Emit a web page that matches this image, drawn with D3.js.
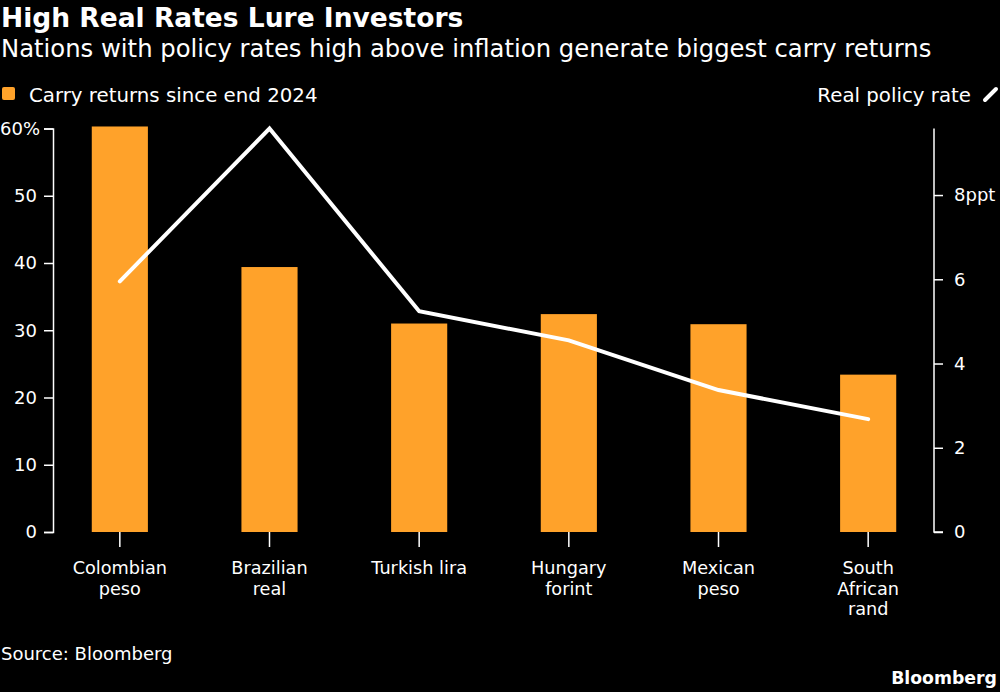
<!DOCTYPE html>
<html>
<head>
<meta charset="utf-8">
<script src="https://cdn.jsdelivr.net/npm/d3@7"></script>
<style>
  html, body { margin: 0; padding: 0; background: #000; }
  svg { display: block; font-family: "DejaVu Sans", sans-serif; }
  .axis path, .axis line { stroke: #fff; stroke-width: 1.5; }
  .axis text { fill: #fff; font-size: 18px; font-family: "DejaVu Sans", sans-serif; }
</style>
</head>
<body>
<div id="chart"></div>
<script>
const categories = ['Colombian peso', 'Brazilian real', 'Turkish lira', 'Hungary forint', 'Mexican peso', 'South African rand'];
const categoryLines = [['Colombian', 'peso'], ['Brazilian', 'real'], ['Turkish lira'], ['Hungary', 'forint'], ['Mexican', 'peso'], ['South', 'African', 'rand']];
const carryReturns = [60.3, 39.4, 31.0, 32.4, 30.9, 23.4];
const realPolicyRate = [5.95, 9.58, 5.24, 4.55, 3.37, 2.68];
const leftTicks = [0, 10, 20, 30, 40, 50, 60];
const rightTicks = [0, 2, 4, 6, 8];

const W = 1000, H = 692;
const plot = {left: 45, right: 943, top: 128.5, bottom: 532};

const svg = d3.select('#chart').append('svg')
    .attr('width', W)
    .attr('height', H);

svg.append('rect').attr('width', W).attr('height', H).attr('fill', '#000');

// titles
svg.append('text')
    .attr('x', 1).attr('y', 27)
    .attr('fill', '#fff')
    .attr('font-size', 26.5).attr('font-weight', 700)
    .text('High Real Rates Lure Investors');

svg.append('text')
    .attr('x', 1).attr('y', 57)
    .attr('fill', '#fff')
    .attr('font-size', 24.3)
    .text('Nations with policy rates high above inflation generate biggest carry returns');

// legend
svg.append('rect')
    .attr('x', 2).attr('y', 87).attr('width', 13).attr('height', 13).attr('rx', 2)
    .attr('fill', '#ffa22a');
svg.append('text')
    .attr('x', 29).attr('y', 102)
    .attr('fill', '#fff').attr('font-size', 19.8)
    .text('Carry returns since end 2024');

svg.append('text')
    .attr('x', 971).attr('y', 102)
    .attr('text-anchor', 'end')
    .attr('fill', '#fff').attr('font-size', 19.8)
    .text('Real policy rate');
svg.append('line')
    .attr('x1', 985).attr('y1', 100).attr('x2', 996).attr('y2', 89)
    .attr('stroke', '#fff').attr('stroke-width', 4).attr('stroke-linecap', 'round');

// scales
const x = d3.scaleBand()
    .domain(categories)
    .range([plot.left, plot.right])
    .paddingInner(0.625)
    .paddingOuter(0.3125);

const yLeft = d3.scaleLinear().domain([0, 60]).range([plot.bottom, plot.top]);
const yRight = d3.scaleLinear().domain([0, d3.max(realPolicyRate)]).range([plot.bottom, plot.top]);

// bars
svg.selectAll('.bar')
    .data(categories)
    .enter()
    .append('rect')
    .attr('class', 'bar')
    .attr('x', d => x(d))
    .attr('width', x.bandwidth())
    .attr('y', (d, i) => yLeft(carryReturns[i]))
    .attr('height', (d, i) => yLeft(0) - yLeft(carryReturns[i]))
    .attr('fill', '#ffa22a');

// left axis
const gLeft = svg.append('g')
    .attr('class', 'axis')
    .attr('transform', 'translate(53,0)')
    .call(d3.axisLeft(yLeft).tickValues(leftTicks).tickSize(9).tickSizeOuter(9).tickPadding(7)
        .tickFormat(d => d === 60 ? '60%' : d));
gLeft.selectAll('text').filter(d => d === 60).attr('text-anchor', 'start').attr('x', -53);

// right axis
svg.append('g')
    .attr('class', 'axis')
    .attr('transform', 'translate(934,0)')
    .call(d3.axisRight(yRight).tickValues(rightTicks).tickSize(9).tickSizeOuter(9).tickPadding(11)
        .tickFormat(d => d === 8 ? '8ppt' : d))
    .select('.domain')
    .attr('d', `M0,${plot.top}V${plot.bottom}H9`);

// bottom category ticks + labels (no baseline)
const gBottom = svg.append('g')
    .attr('class', 'axis')
    .attr('transform', `translate(0,${plot.bottom})`)
    .call(d3.axisBottom(x).tickSize(15).tickSizeOuter(0).tickFormat(''));
gBottom.select('.domain').remove();

categories.forEach((c, i) => {
    categoryLines[i].forEach((ln, j) => {
        svg.append('text')
            .attr('x', x(c) + x.bandwidth() / 2)
            .attr('y', 574 + j * 20.5)
            .attr('text-anchor', 'middle')
            .attr('fill', '#fff')
            .attr('font-size', 17.7)
            .text(ln);
    });
});

// line
const line = d3.line()
    .x((d, i) => x(categories[i]) + x.bandwidth() / 2)
    .y(d => yRight(d));

svg.append('path')
    .datum(realPolicyRate)
    .attr('d', line)
    .attr('fill', 'none')
    .attr('stroke', '#fff')
    .attr('stroke-width', 4)
    .attr('stroke-linecap', 'round')
    .attr('stroke-linejoin', 'miter');

// footer
svg.append('text')
    .attr('x', 1).attr('y', 660)
    .attr('fill', '#fff').attr('font-size', 18)
    .text('Source: Bloomberg');

svg.append('text')
    .attr('x', 997).attr('y', 684)
    .attr('text-anchor', 'end')
    .attr('fill', '#fff').attr('font-size', 17.3).attr('font-weight', 700)
    .text('Bloomberg');
</script>
</body>
</html>
